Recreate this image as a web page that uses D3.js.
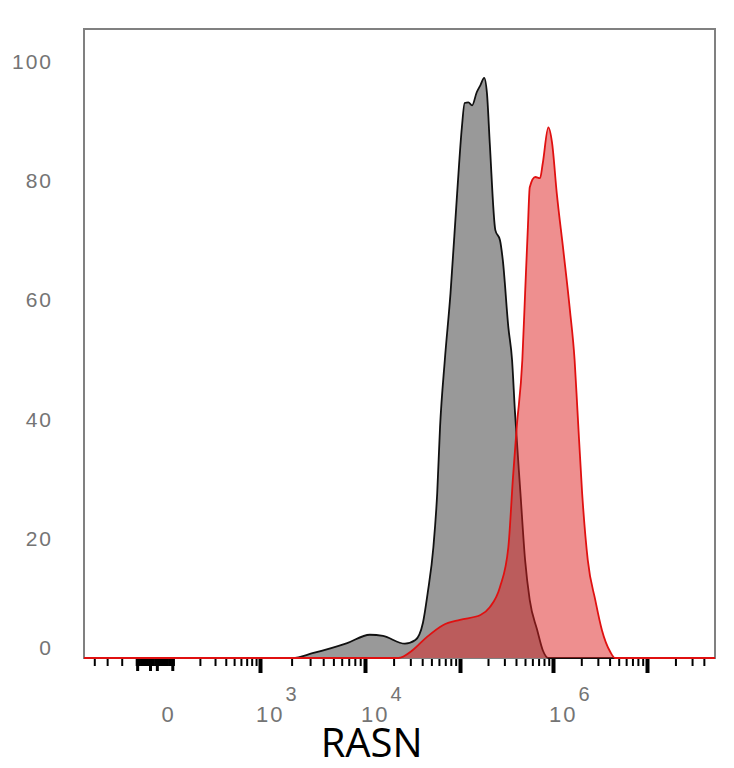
<!DOCTYPE html>
<html>
<head>
<meta charset="utf-8">
<script src="https://cdn.jsdelivr.net/npm/d3@7"></script>
<style>
  body { margin: 0; background: #fff; }
  .tick-label { font-family: "Liberation Sans", Arial, sans-serif; fill: #747474; letter-spacing: 2px; }
  .x-title { font-family: "Open Sans", "Noto Sans", sans-serif; fill: #000; }
</style>
</head>
<body>
<svg id="chart" width="734" height="768"></svg>
<script>
// histogram traces, x in display decades (10^u), y in % of max
const grayU = [0.95, 3.31, 3.5, 3.83, 4.05, 4.19, 4.42, 4.53, 4.61, 4.66,
  4.72, 4.76, 4.79, 4.84, 4.9, 4.97, 5.02, 5.05, 5.09, 5.13,
  5.18, 5.22, 5.26, 5.29, 5.32, 5.38, 5.43, 5.46, 5.52, 5.56,
  5.59, 5.65, 5.7, 5.75, 5.83, 5.89, 5.95, 7.72];
const grayPct = [0, 0, 0.8, 2.5, 3.9, 3.7, 2.4, 3.0, 5.9, 10.9,
  18.6, 27.6, 38.7, 49.9, 61.1, 77.9, 88.9, 93.0, 93.1, 92.6,
  94.8, 96.0, 97.2, 94.6, 86.3, 71.7, 70.0, 66.7, 55.4, 49.9,
  41.5, 27.6, 16.4, 9.7, 4.7, 1.3, 0, 0];

const redU = [0.95, 4.35, 4.5, 4.65, 4.82, 5.0, 5.22, 5.32, 5.43, 5.52,
  5.57, 5.61, 5.67, 5.7, 5.73, 5.75, 5.81, 5.86, 5.89, 5.95,
  5.99, 6.04, 6.11, 6.18, 6.23, 6.26, 6.31, 6.37, 6.45, 6.52,
  6.61, 6.66, 7.72];
const redPct = [0, 0, 1.3, 3.5, 5.5, 6.4, 7.2, 8.5, 11.9, 18.6,
  30.3, 38.7, 49.9, 61.1, 72.2, 78.9, 80.6, 80.4, 82.9, 88.9,
  86.3, 77.9, 68.3, 58.3, 49.9, 41.5, 27.6, 16.4, 9.7, 4.7,
  1.0, 0, 0];

// axis ticks and labels
const yTicks = [0, 20, 40, 60, 80, 100];
const majorTicks = [3, 4, 5, 6, 7];
const xLabels = [
  { u: 1.9, base: "0", exp: "" },
  { u: 3, base: "10", exp: "3" },
  { u: 4, base: "10", exp: "4" },
  { u: 6, base: "10", exp: "6" }
];
const negTicks = [1.07, 1.22, 1.39];
const blockLongTicks = [1.57, 1.72, 1.8, 1.98];
const xTitle = "RASN";

const svg = d3.select("#chart");
const margin = { top: 29, right: 19, bottom: 110, left: 84 };
const width = 734 - margin.left - margin.right;
const height = 768 - margin.top - margin.bottom;

// biex-like display: piecewise linear in decades
const x = d3.scaleLinear()
  .domain([0.95, 2, 3, 4, 5, 6, 7, 7.72])
  .range([0, 90, 176, 281, 376, 469, 563, width]);

const y = d3.scaleLinear()
  .domain([0, 105.4])
  .range([height, 0]);

const g = svg.append("g")
  .attr("transform", `translate(${margin.left},${margin.top})`);

// minor log ticks
let minorTicks = [];
[2, 3, 4, 5, 6].forEach(d => {
  for (let k = 2; k <= 9; k++) minorTicks.push(d + Math.log10(k));
});
[2, 3, 4].forEach(k => minorTicks.push(7 + Math.log10(k)));
minorTicks = minorTicks.concat(negTicks);
const blockTicks = d3.range(1.56, 2.001, 0.018);

function drawTicks(values, size, sw) {
  const ax = g.append("g")
    .attr("transform", `translate(0,${height})`)
    .call(d3.axisBottom(x).tickValues(values).tickSize(size).tickFormat(""));
  ax.select(".domain").remove();
  ax.selectAll(".tick line").attr("stroke", "#000").attr("stroke-width", sw);
}
drawTicks(minorTicks, 8, 2);
drawTicks(blockTicks, 8, 2.2);
drawTicks(blockLongTicks, 13, 3);
drawTicks(majorTicks, 15, 4);

// frame
g.append("rect")
  .attr("x", 0).attr("y", 0)
  .attr("width", width).attr("height", height)
  .attr("fill", "none")
  .attr("stroke", "#808080")
  .attr("stroke-width", 2);

const plot = g.append("g");

const area = d3.area()
  .x(d => x(d[0]))
  .y0(y(0))
  .y1(d => y(d[1]))
  .curve(d3.curveMonotoneX);
const line = d3.line()
  .x(d => x(d[0]))
  .y(d => y(d[1]))
  .curve(d3.curveMonotoneX);

const gray = grayU.map((u, i) => [u, grayPct[i]]);
const red = redU.map((u, i) => [u, redPct[i]]);

plot.append("path").datum(gray)
  .attr("d", area)
  .attr("fill", "#999999");
plot.append("path").datum(gray)
  .attr("d", line)
  .attr("fill", "none")
  .attr("stroke", "#111")
  .attr("stroke-width", 1.8);

plot.append("path").datum(red)
  .attr("d", area)
  .attr("fill", "rgb(222,32,32)")
  .attr("fill-opacity", 0.5);
plot.append("path").datum(red)
  .attr("d", line)
  .attr("fill", "none")
  .attr("stroke", "#e01010")
  .attr("stroke-width", 1.8);

// y labels (no tick marks), 0 nudged up like the original
g.selectAll(".ylab")
  .data(yTicks)
  .enter().append("text")
  .attr("class", "tick-label")
  .attr("x", -31)
  .attr("y", d => y(d) + (d === 0 ? -11 : 0))
  .attr("dy", "0.36em")
  .attr("text-anchor", "end")
  .style("font-size", "21px")
  .text(d => d);

// x labels with superscripts
const xl = g.selectAll(".xlab")
  .data(xLabels)
  .enter().append("text")
  .attr("class", "tick-label")
  .attr("x", d => x(d.u) - 4)
  .attr("y", height + 64)
  .style("font-size", "22px");
xl.append("tspan").text(d => d.base);
xl.append("tspan")
  .attr("dy", -21)
  .attr("dx", 1)
  .style("font-size", "20px")
  .text(d => d.exp);

g.append("text")
  .attr("class", "x-title")
  .attr("x", x(4.07))
  .attr("y", height + 99)
  .attr("text-anchor", "middle")
  .style("font-size", "40px")
  .text(xTitle);
</script>
</body>
</html>
